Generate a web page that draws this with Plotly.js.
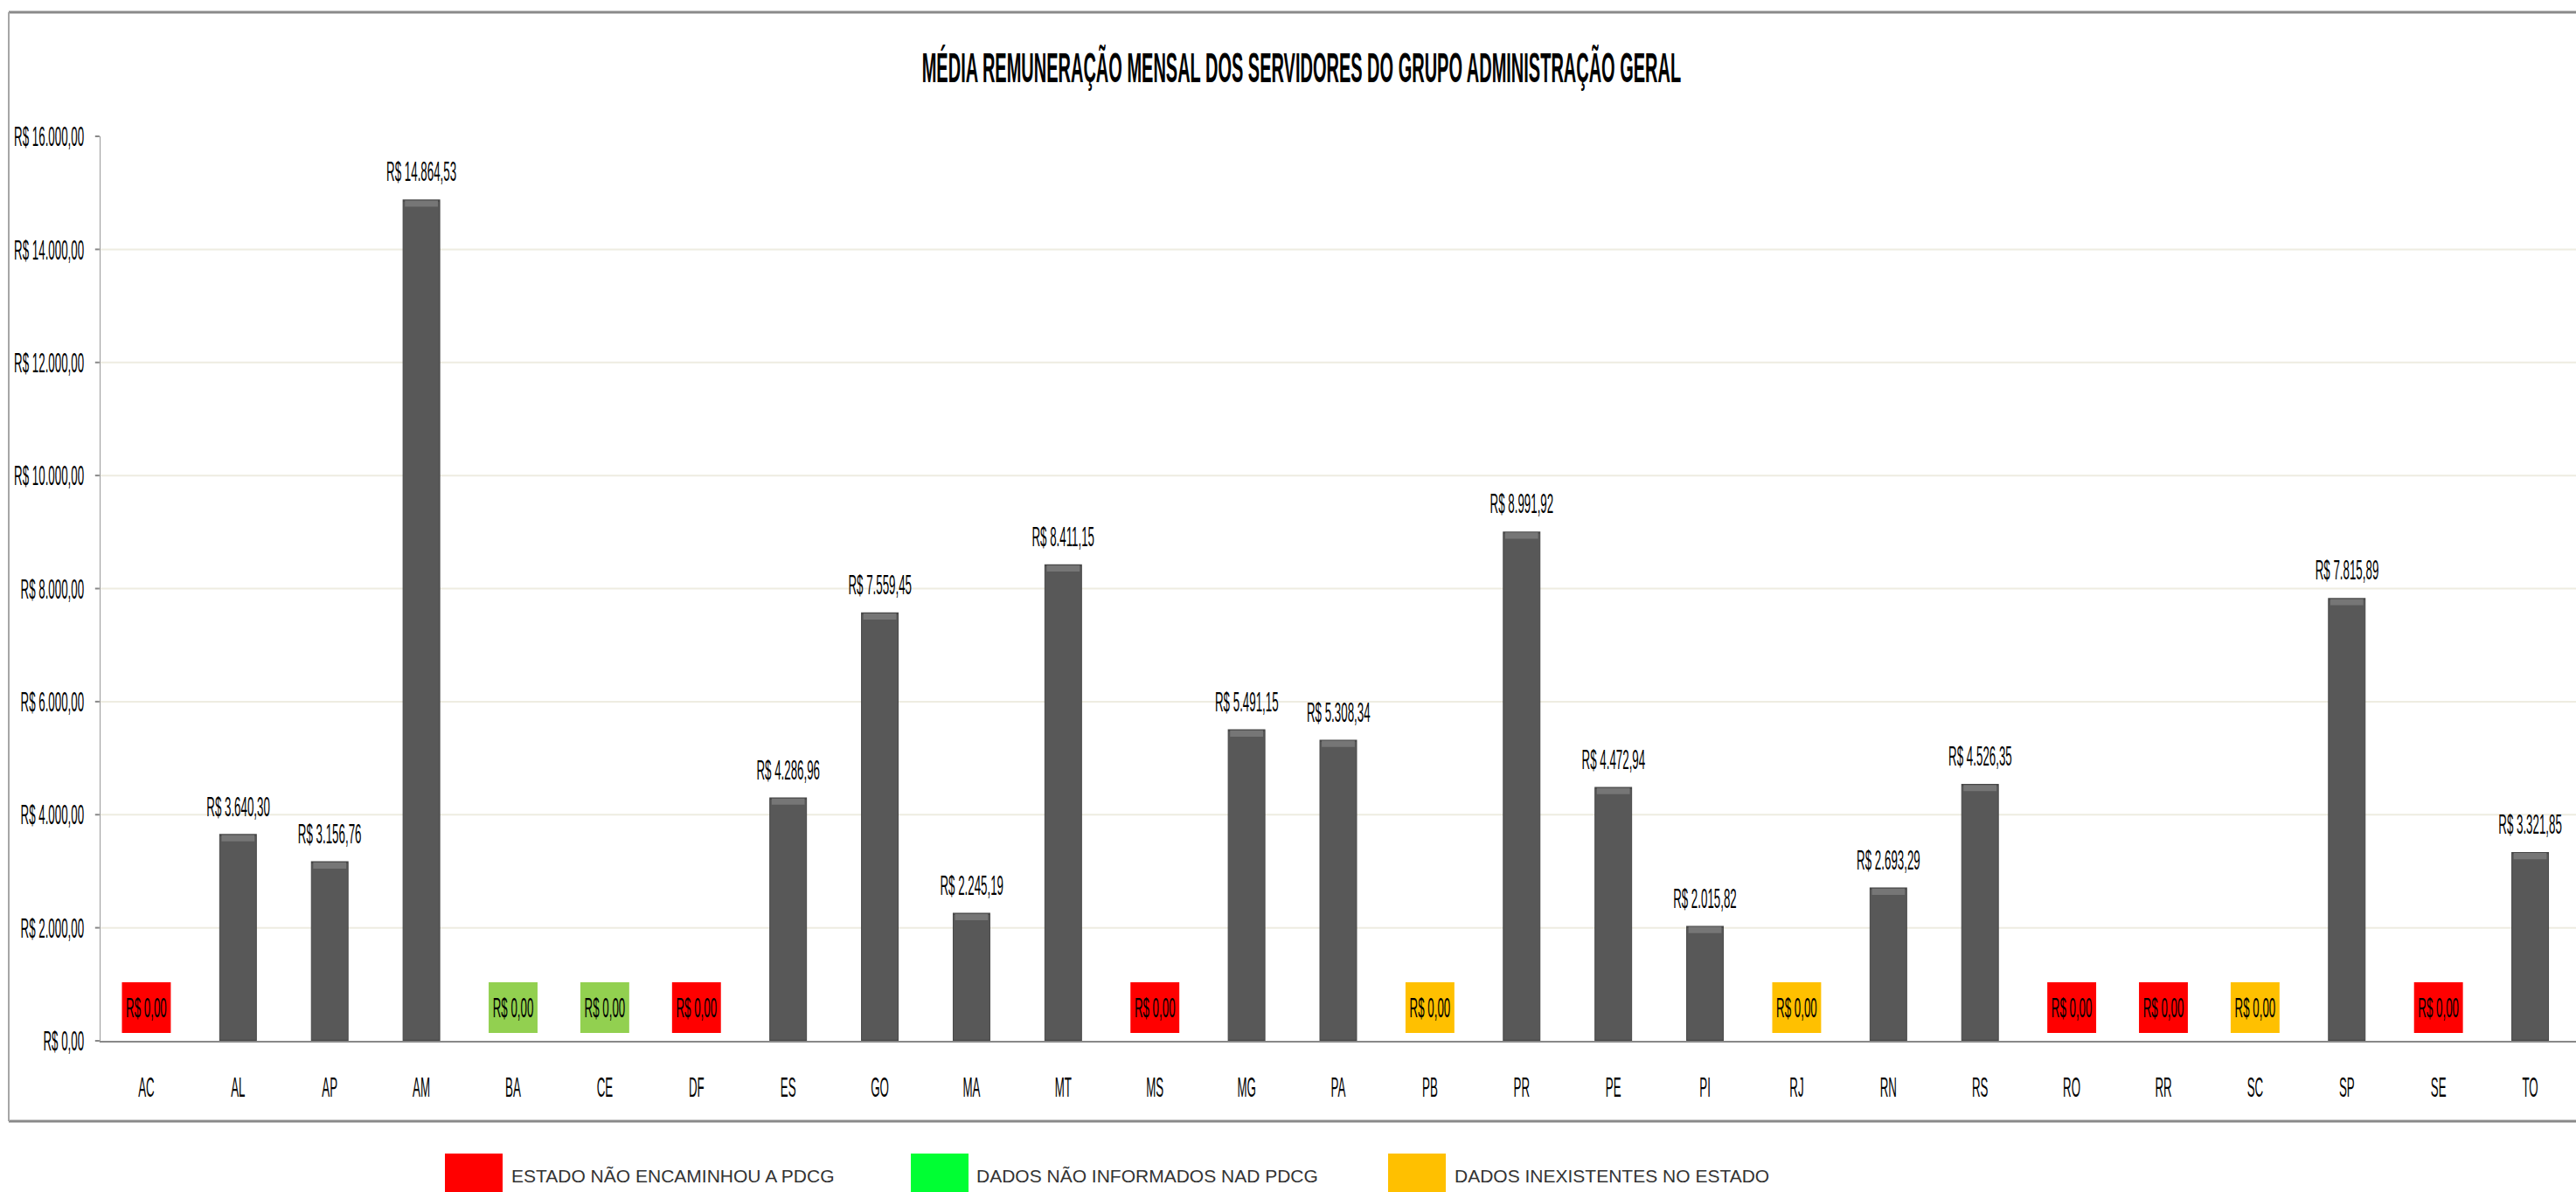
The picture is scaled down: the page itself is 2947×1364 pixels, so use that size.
<!DOCTYPE html>
<html>
<head>
<meta charset="utf-8">
<script src="https://cdn.plot.ly/plotly-3.0.1.min.js"></script>
<style>
html,body{margin:0;padding:0;overflow:hidden;background:#fff;}
#wrap{position:relative;width:2947px;height:1364px;overflow:hidden;}
#chart{position:absolute;left:0;top:0;width:7073px;height:1364px;transform:scaleX(0.416655);transform-origin:0 0;}
#legend{position:absolute;left:0;top:0;width:2947px;height:1364px;pointer-events:none;}
</style>
</head>
<body>
<div id="wrap"><div id="chart"></div><div id="legend"></div></div>
<script>
// ---------- DATA ----------
const chartTitle = 'MÉDIA REMUNERAÇÃO MENSAL DOS SERVIDORES DO GRUPO ADMINISTRAÇÃO GERAL';
const categories = ['AC','AL','AP','AM','BA','CE','DF','ES','GO','MA','MT','MS','MG','PA','PB','PR','PE','PI','RJ','RN','RS','RO','RR','SC','SP','SE','TO'];
const values = [0, 3640.30, 3156.76, 14864.53, 0, 0, 0, 4286.96, 7559.45, 2245.19, 8411.15, 0, 5491.15, 5308.34, 0, 8991.92, 4472.94, 2015.82, 0, 2693.29, 4526.35, 0, 0, 0, 7815.89, 0, 3321.85];
// status for states without value: 'naoEncaminhou' | 'naoInformados' | 'inexistentes'
const status = ['naoEncaminhou','','','','naoInformados','naoInformados','naoEncaminhou','','','','','naoEncaminhou','','','inexistentes','','','','inexistentes','','','naoEncaminhou','naoEncaminhou','inexistentes','','naoEncaminhou',''];
const statusBoxColors = {naoEncaminhou:'#FF0000', naoInformados:'#92D050', inexistentes:'#FFC000'};
const yTickVals = [0, 2000, 4000, 6000, 8000, 10000, 12000, 14000, 16000];
const yTickText = ['R$ 0,00','R$ 2.000,00','R$ 4.000,00','R$ 6.000,00','R$ 8.000,00','R$ 10.000,00','R$ 12.000,00','R$ 14.000,00','R$ 16.000,00'];
const legendLabels = ['ESTADO NÃO ENCAMINHOU A PDCG','DADOS NÃO INFORMADOS NAD PDCG','DADOS INEXISTENTES NO ESTADO'];
const legendColors = ['#FF0000','#00FF33','#FFC000'];

// ---------- HELPERS ----------
function brl(v){
  const parts = v.toFixed(2).split('.');
  const intPart = parts[0].replace(/\B(?=(\d{3})+(?!\d))/g, '.');
  return 'R$ ' + intPart + ',' + parts[1];
}

const FONT = '"Liberation Sans", Arial, sans-serif';
const FS = 32;
const S = 2.4;                 // horizontal compression of the original picture
const W = 2947, H = 1364, WP = 7073;
const plotL = 115, plotT = 156, plotB = 1191;
const xp = x => (x - plotL) / (W - plotL);
const yp = y => (plotB - y) / (plotB - plotT);

// zero-value boxes
const BOX_BASE = 140, BOX_HEIGHT = 895;
const zeroX = [], zeroColors = [], zeroText = [];
categories.forEach((c, i) => {
  if (values[i] === 0) { zeroX.push(c); zeroColors.push(statusBoxColors[status[i]]); zeroText.push(brl(values[i])); }
});
const posX = categories.filter((c, i) => values[i] > 0);
const posV = values.filter(v => v > 0);

const BEVEL = 110;
const barTrace = {
  type: 'bar', x: posX, y: posV, width: 0.40,
  marker: {color: '#585858', line: {width: 2.4, color: '#474747'}},
  hoverinfo: 'skip'
};
const bevelTrace = {
  type: 'bar', x: posX, y: posX.map(() => BEVEL), base: posV.map(v => v - BEVEL), width: 0.36,
  marker: {color: '#767676', line: {width: 0}},
  hoverinfo: 'skip'
};
const boxTrace = {
  type: 'bar', x: zeroX, y: zeroX.map(() => BOX_HEIGHT), base: BOX_BASE, width: 0.533,
  marker: {color: zeroColors, line: {width: 0}},
  text: zeroText, textposition: 'inside', insidetextanchor: 'middle', constraintext: 'none',
  textangle: 0,
  textfont: {family: FONT, size: FS, color: '#000'},
  hoverinfo: 'skip'
};

const labelAnnotations = [];
categories.forEach((c, i) => {
  if (values[i] > 0) {
    labelAnnotations.push({
      x: c, y: values[i], xref: 'x', yref: 'y', text: brl(values[i]),
      showarrow: false, yanchor: 'bottom', xanchor: 'center', yshift: 13,
      font: {family: FONT, size: FS, color: '#000'}
    });
  }
});

const frameShapes = [
  {type:'line', xref:'paper', yref:'paper', x0: xp(10), x1: 1.02, y0: yp(14), y1: yp(14), line:{color:'#8a8a8a', width:3}},
  {type:'line', xref:'paper', yref:'paper', x0: xp(10), x1: 1.02, y0: yp(1283), y1: yp(1283), line:{color:'#8a8a8a', width:3}},
  {type:'line', xref:'paper', yref:'paper', x0: xp(10), x1: xp(10), y0: yp(14), y1: yp(1283), line:{color:'#a6a6a6', width:2*S}}
];

const layout = {
  width: WP, height: H,
  margin: {l: plotL*S, r: 0, t: plotT, b: H - plotB, pad: 0},
  paper_bgcolor: '#ffffff', plot_bgcolor: '#ffffff',
  font: {family: FONT, size: FS, color: '#000'},
  title: {
    text: chartTitle, xref: 'container', yref: 'container',
    x: 1489*S/WP, xanchor: 'center', y: 1 - 77/H, yanchor: 'middle',
    font: {family: FONT, size: 48, weight: 700, color: '#000'}
  },
  barmode: 'overlay',
  showlegend: false,
  xaxis: {
    type: 'category', categoryorder: 'array', categoryarray: categories,
    range: [-0.5, 26.5], showgrid: false, zeroline: false,
    showline: true, linecolor: '#888888', linewidth: 2,
    ticks: '', ticklabelstandoff: 24,
    tickfont: {family: FONT, size: FS, color: '#000'}, fixedrange: true
  },
  yaxis: {
    range: [0, 16000], tickmode: 'array', tickvals: yTickVals, ticktext: yTickText,
    showgrid: true, gridcolor: '#EEECE1', gridwidth: 2, zeroline: false,
    showline: true, linecolor: '#999999', linewidth: 1.2*S,
    ticks: 'outside', ticklen: 5*S, tickwidth: 2, tickcolor: '#888888',
    ticklabelstandoff: 10*S,
    tickfont: {family: FONT, size: FS, color: '#000'}, fixedrange: true
  },
  shapes: frameShapes,
  annotations: labelAnnotations
};

Plotly.newPlot('chart', [barTrace, bevelTrace, boxTrace], layout, {staticPlot: true, displayModeBar: false});

// ---------- LEGEND (not compressed) ----------
const legendSquareX = [509, 1042, 1588];
const legendTextX = [583, 1115, 1662];
const lgShapes = legendColors.map((col, i) => ({
  type: 'rect', xref: 'paper', yref: 'paper',
  x0: legendSquareX[i]/W, x1: (legendSquareX[i] + 66)/W,
  y0: 1 - 1372/H, y1: 1 - 1320/H,
  fillcolor: col, line: {width: 0}
}));
const lgAnn = legendLabels.map((t, i) => ({
  xref: 'paper', yref: 'paper', x: legendTextX[i]/W, y: 1 - 1345/H,
  xanchor: 'left', yanchor: 'middle', text: t, showarrow: false,
  font: {family: FONT, size: 21, color: '#333333'}
}));
Plotly.newPlot('legend', [], {
  width: W, height: H, margin: {l:0, r:0, t:0, b:0},
  paper_bgcolor: 'rgba(0,0,0,0)', plot_bgcolor: 'rgba(0,0,0,0)',
  xaxis: {visible: false, range: [0,1]}, yaxis: {visible: false, range: [0,1]},
  shapes: lgShapes, annotations: lgAnn, showlegend: false
}, {staticPlot: true, displayModeBar: false});
</script>
</body>
</html>
